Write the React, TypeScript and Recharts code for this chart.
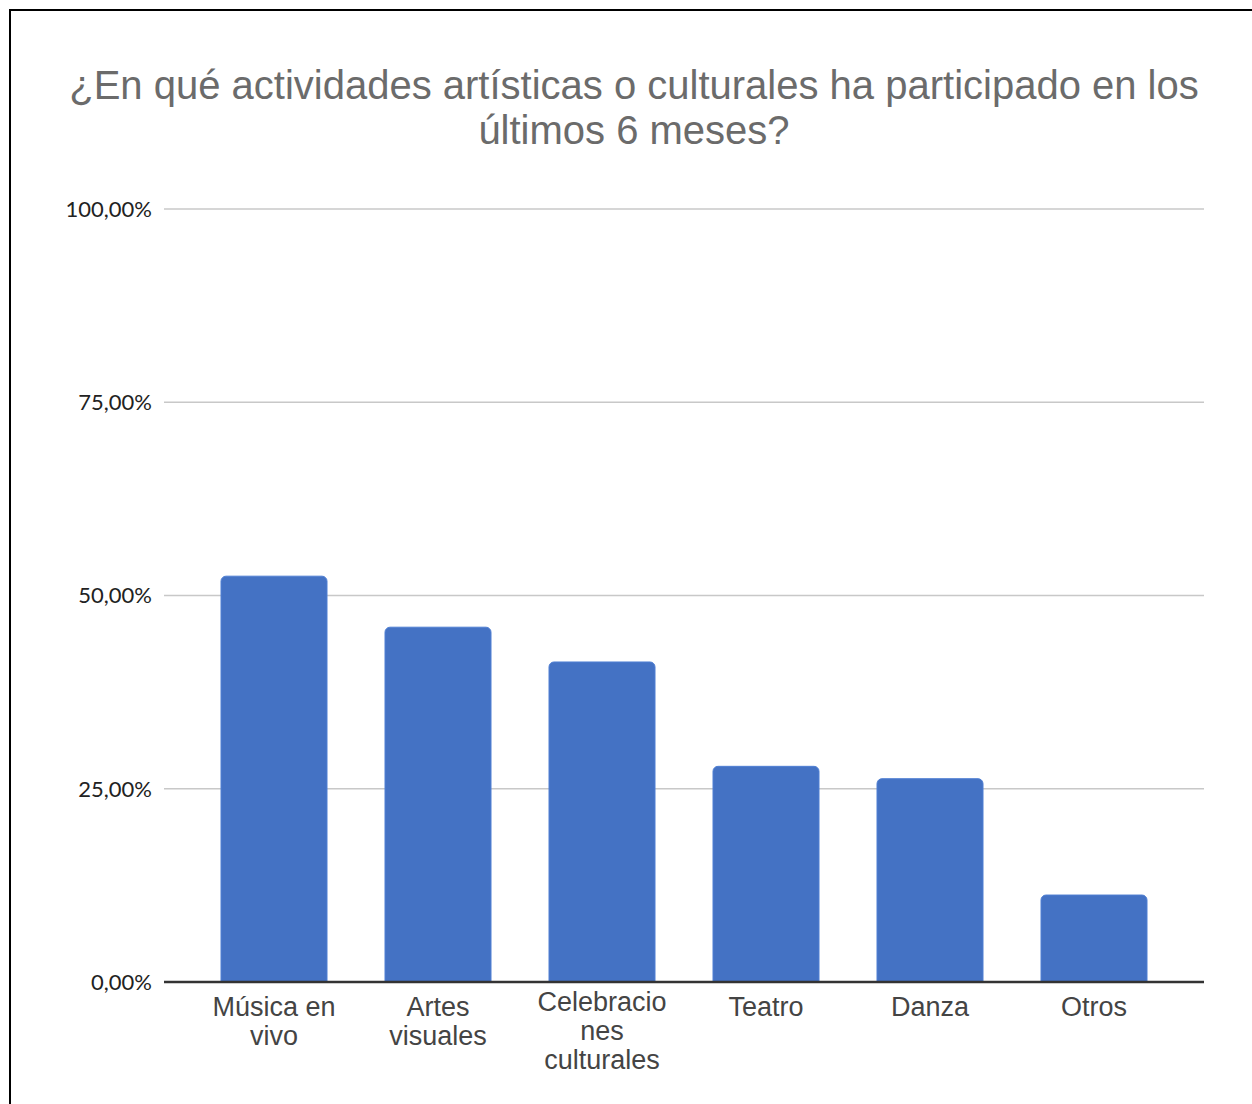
import React from "react";
import { BarChart, Bar, XAxis, YAxis, CartesianGrid } from "recharts";

const categories = ["Música en vivo", "Artes visuales", "Celebraciones culturales", "Teatro", "Danza", "Otros"];
const tickLines: Record<string, string[]> = {
  "Música en vivo": ["Música en", "vivo"],
  "Artes visuales": ["Artes", "visuales"],
  "Celebraciones culturales": ["Celebracio", "nes", "culturales"],
  Teatro: ["Teatro"],
  Danza: ["Danza"],
  Otros: ["Otros"],
};
const values = [52.5, 45.9, 41.4, 27.9, 26.3, 11.25];
const yTicks = [0, 25, 50, 75, 100];

const data = categories.map((name, i) => ({ name, value: values[i] }));

const fmtPct = (v: number) => v.toFixed(2).replace(".", ",") + "%";

function XTick(props: any) {
  const { x, y, payload } = props;
  const lines = tickLines[payload.value] ?? [payload.value];
  return (
    <g transform={`translate(${x},${y})`}>
      {lines.map((l, i) => (
        <text
          key={i}
          x={0}
          y={(lines.length > 2 ? 14 : 19) + i * 29}
          textAnchor="middle"
          fontFamily="'Liberation Sans', Arial, sans-serif"
          fontSize={27}
          fill="#444"
          dominantBaseline="middle"
        >
          {l}
        </text>
      ))}
    </g>
  );
}

export default function App() {
  return (
    <div style={{ position: "absolute", left: 0, top: 0, width: 1252, height: 1104, background: "#fff", overflow: "hidden" }}>
      <div
        style={{
          position: "absolute",
          left: 9,
          top: 9,
          width: 1300,
          height: 1200,
          borderLeft: "2.5px solid #000",
          borderTop: "2.5px solid #000",
        }}
      />
      <div
        style={{
          position: "absolute",
          left: 0,
          width: 1268,
          top: 63,
          textAlign: "center",
          fontFamily: "'Liberation Sans', Arial, sans-serif",
          fontSize: 40,
          lineHeight: "45px",
          color: "#6b6b6b",
        }}
      >
        ¿En qué actividades artísticas o culturales ha participado en los
        <br />
        últimos 6 meses?
      </div>
      <div style={{ position: "absolute", left: 0, top: 0 }}>
        <BarChart
          width={1252}
          height={1104}
          data={data}
          margin={{ top: 209, right: 48, bottom: 92, left: 64 }}
        >
          <CartesianGrid vertical={false} stroke="#c8c8c8" strokeWidth={1.5} />
          <XAxis
            dataKey="name"
            height={30}
            padding={{ left: 28, right: 28 }}
            axisLine={{ stroke: "#333", strokeWidth: 2.5 }}
            tickLine={false}
            interval={0}
            tick={<XTick />}
          />
          <YAxis
            width={100}
            domain={[0, 100]}
            ticks={yTicks}
            axisLine={false}
            tickLine={false}
            tickSize={0}
            tickMargin={12}
            tickFormatter={fmtPct}
            tick={{ fontFamily: "Lato, sans-serif", fontSize: 22, fill: "#222" }}
          />
          <Bar
            dataKey="value"
            fill="#4472c4"
            stroke="#4f7fd3"
            strokeWidth={1}
            barSize={106}
            radius={[5, 5, 0, 0]}
            isAnimationActive={false}
          />
        </BarChart>
      </div>
    </div>
  );
}
